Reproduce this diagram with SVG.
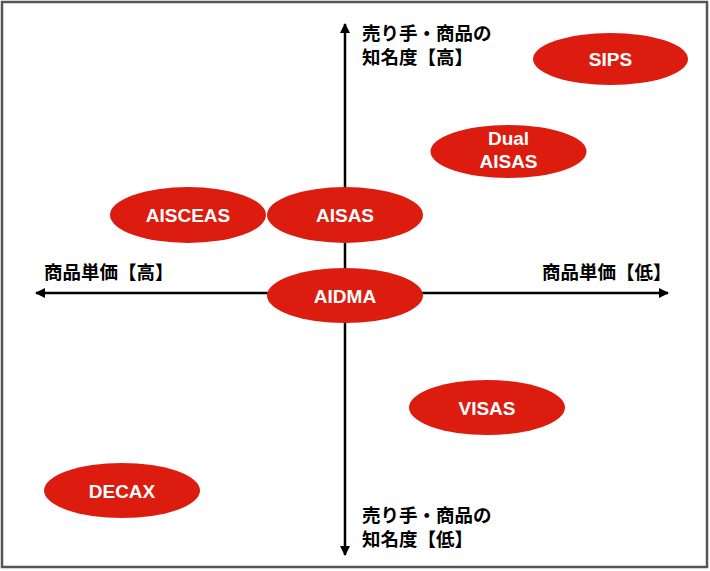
<svg xmlns="http://www.w3.org/2000/svg" width="710" height="571" viewBox="0 0 710 571">
<style>
.node ellipse{fill:#DC1C0F;stroke:none}
.node text{fill:#fff;font-family:"Liberation Sans",Arial,sans-serif;font-weight:700;font-size:19px;text-anchor:middle}
.lbl{fill:#000;font-family:"Noto Sans CJK JP","Noto Sans",sans-serif;font-weight:700;font-size:18.5px}
.axis{stroke:#000;stroke-width:2.5;fill:none}
</style>
<defs>
<marker id="arr" viewBox="0 0 10 10" refX="9" refY="5" markerWidth="4" markerHeight="4" orient="auto-start-reverse" markerUnits="strokeWidth">
<path d="M0,0 L10,5 L0,10 z" fill="#000"/>
</marker>
</defs>
<rect x="2" y="2" width="705" height="565" fill="#fff" stroke="#555" stroke-width="2.5"/>
<g id="connectors">
<line class="axis" x1="345" y1="24" x2="345" y2="555" marker-start="url(#arr)" marker-end="url(#arr)"/>
<line class="axis" x1="36" y1="293" x2="668" y2="293" marker-start="url(#arr)" marker-end="url(#arr)"/>
</g>
<g id="labels">
<text class="lbl" x="362" y="40">売り手・商品の</text>
<text class="lbl" x="362" y="63.5">知名度【高】</text>
<text class="lbl" x="362" y="522">売り手・商品の</text>
<text class="lbl" x="362" y="545.5">知名度【低】</text>
<text class="lbl" x="44" y="279">商品単価【高】</text>
<text class="lbl" x="542" y="279">商品単価【低】</text>
</g>
<g id="SIPS" class="node"><ellipse cx="610.5" cy="59" rx="77.5" ry="26"/><text x="610.5" y="66">SIPS</text></g>
<g id="DualAISAS" class="node"><ellipse cx="508.5" cy="151.5" rx="78" ry="26.5"/><text x="508.5" y="145">Dual</text><text x="508.5" y="168">AISAS</text></g>
<g id="AISCEAS" class="node"><ellipse cx="188" cy="215" rx="78" ry="28"/><text x="188" y="222">AISCEAS</text></g>
<g id="AISAS" class="node"><ellipse cx="345" cy="215" rx="78" ry="28"/><text x="345" y="222">AISAS</text></g>
<g id="AIDMA" class="node"><ellipse cx="345" cy="295.5" rx="78" ry="27.5"/><text x="345" y="302.5">AIDMA</text></g>
<g id="VISAS" class="node"><ellipse cx="487" cy="407.5" rx="78" ry="27.5"/><text x="487" y="414.5">VISAS</text></g>
<g id="DECAX" class="node"><ellipse cx="122" cy="490.5" rx="78" ry="27.5"/><text x="122" y="497.5">DECAX</text></g>
</svg>
